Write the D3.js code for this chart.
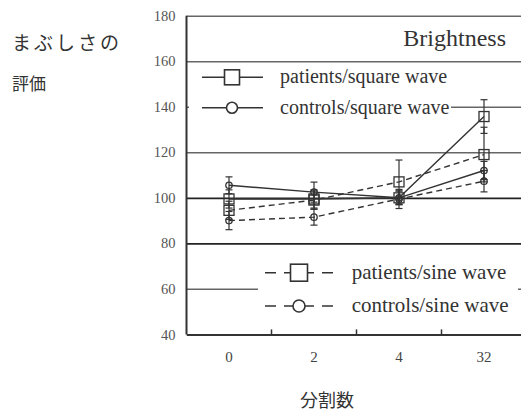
<!DOCTYPE html>
<html>
<head>
<meta charset="utf-8">
<script src="https://cdn.jsdelivr.net/npm/d3@7"></script>
<style>
  body { margin: 0; background: #fff; }
  svg { display: block; }
  .serif { font-family: 'Liberation Serif', 'Times New Roman', Times, 'DejaVu Serif', serif; }
  .cjk { font-family: 'Noto Sans CJK JP', 'Noto Sans CJK SC', sans-serif; }
</style>
</head>
<body>
<svg width="521" height="412"></svg>
<script>
const categories = ['0', '2', '4', '32'];
const yTickValues = [40, 60, 80, 100, 120, 140, 160, 180];

const patientsSquare = [99.5, 99.5, 100, 135.7];
const patientsSquareErr = [4, 4, 3, 7.4];
const controlsSquare = [105.5, 102.5, 100, 112];
const controlsSquareErr = [3.7, 4.4, 3, 4];
const patientsSine = [94.5, 99, 107, 119];
const patientsSineErr = [4, 4, 9.6, 12];
const controlsSine = [90, 91.5, 99.5, 107.3];
const controlsSineErr = [4, 3.5, 4.2, 4.7];

const seriesNames = ['patients/square wave', 'controls/square wave', 'patients/sine wave', 'controls/sine wave'];

const svg = d3.select('svg');
const plot = {left: 186.5, right: 526.5, top: 15.7, bottom: 334.4};

const x = d3.scaleBand().domain(categories).range([plot.left, plot.right]);
const y = d3.scaleLinear().domain([40, 180]).range([plot.bottom, plot.top]);
const cx = c => x(c) + x.bandwidth() / 2;

// gridlines via axis ticks
const grid = svg.append('g')
  .attr('transform', `translate(${plot.left},0)`)
  .call(d3.axisLeft(y).tickValues(yTickValues).tickSize(-(plot.right - plot.left)).tickPadding(11).tickFormat(d3.format('d')));
grid.attr('font-family', null);
grid.select('.domain').remove();
grid.selectAll('.tick line')
  .attr('stroke', d => (d === 100 || d === 80) ? '#222' : '#666')
  .attr('stroke-width', d => (d === 100 || d === 80) ? 1.8 : 1.5);
grid.selectAll('.tick text')
  .attr('class', 'serif')
  .attr('font-size', 14.5)
  .attr('fill', '#555');

// legend boxes hide the gridlines behind them
svg.append('rect').attr('x', 189).attr('y', 64).attr('width', 262).attr('height', 56).attr('fill', '#fff');
svg.append('rect').attr('x', 258).attr('y', 250).attr('width', 260).attr('height', 80).attr('fill', '#fff');

// axis lines
svg.append('line')
  .attr('x1', plot.left).attr('x2', plot.left)
  .attr('y1', plot.top).attr('y2', plot.bottom)
  .attr('stroke', '#333').attr('stroke-width', 2);

const xAxis = svg.append('g')
  .attr('transform', `translate(0,${plot.bottom})`)
  .call(d3.axisBottom(x).tickSize(0).tickPadding(16.6));
xAxis.attr('font-family', null);
xAxis.select('.domain').attr('stroke', '#333').attr('stroke-width', 2);
xAxis.selectAll('.tick text')
  .attr('class', 'serif')
  .attr('font-size', 15)
  .attr('fill', '#444');

// small inward ticks between categories
svg.append('g').selectAll('line')
  .data(categories.slice(1))
  .join('line')
  .attr('x1', d => x(d)).attr('x2', d => x(d))
  .attr('y1', plot.bottom).attr('y2', plot.bottom - 5)
  .attr('stroke', '#333').attr('stroke-width', 1.5);

// data series
const series = [
  {name: seriesNames[0], values: patientsSquare, err: patientsSquareErr, marker: 'square', dash: null},
  {name: seriesNames[1], values: controlsSquare, err: controlsSquareErr, marker: 'circle', dash: null},
  {name: seriesNames[2], values: patientsSine, err: patientsSineErr, marker: 'square', dash: '6,4'},
  {name: seriesNames[3], values: controlsSine, err: controlsSineErr, marker: 'circle', dash: '6,4'}
];

const line = d3.line()
  .x((d, i) => cx(categories[i]))
  .y(d => y(d));

const ink = '#333';

series.forEach(s => {
  const g = svg.append('g');
  g.append('path')
    .attr('d', line(s.values))
    .attr('fill', 'none')
    .attr('stroke', ink)
    .attr('stroke-width', 1.4)
    .attr('stroke-dasharray', s.dash);

  // error bars
  const eb = g.selectAll('.eb').data(s.values).join('g');
  eb.append('line')
    .attr('x1', (d, i) => cx(categories[i])).attr('x2', (d, i) => cx(categories[i]))
    .attr('y1', (d, i) => y(d + s.err[i])).attr('y2', (d, i) => y(d - s.err[i]))
    .attr('stroke', ink).attr('stroke-width', 1.2);
  [1, -1].forEach(sign => {
    eb.append('line')
      .attr('x1', (d, i) => cx(categories[i]) - 3.5).attr('x2', (d, i) => cx(categories[i]) + 3.5)
      .attr('y1', (d, i) => y(d + sign * s.err[i])).attr('y2', (d, i) => y(d + sign * s.err[i]))
      .attr('stroke', ink).attr('stroke-width', 1.2);
  });

  // markers
  if (s.marker === 'square') {
    g.selectAll('.m').data(s.values).join('rect')
      .attr('x', (d, i) => cx(categories[i]) - 5).attr('y', d => y(d) - 5)
      .attr('width', 10).attr('height', 10)
      .attr('fill', 'none').attr('stroke', ink).attr('stroke-width', 1.3);
  } else {
    g.selectAll('.m').data(s.values).join('circle')
      .attr('cx', (d, i) => cx(categories[i])).attr('cy', d => y(d))
      .attr('r', 3.2)
      .attr('fill', 'none').attr('stroke', ink).attr('stroke-width', 1.3);
  }
});

// legends
const legends = [
  {s: series[0], x0: 202, x1: 263, mx: 232, ty: 77.3, tx: 280, size: 15, r: 5.5, fs: 20},
  {s: series[1], x0: 202, x1: 263, mx: 232, ty: 107.7, tx: 280, size: 15, r: 5.5, fs: 20},
  {s: series[2], x0: 265, x1: 333, mx: 299, ty: 272.7, tx: 351.7, size: 17, r: 6, fs: 21},
  {s: series[3], x0: 265, x1: 333, mx: 299, ty: 306, tx: 351.7, size: 17, r: 6, fs: 21}
];
legends.forEach(l => {
  const g = svg.append('g');
  g.append('line')
    .attr('x1', l.x0).attr('x2', l.x1).attr('y1', l.ty).attr('y2', l.ty)
    .attr('stroke', ink).attr('stroke-width', 1.6)
    .attr('stroke-dasharray', l.s.dash ? '11,8' : null);
  if (l.s.marker === 'square') {
    g.append('rect')
      .attr('x', l.mx - l.size / 2).attr('y', l.ty - l.size / 2)
      .attr('width', l.size).attr('height', l.size)
      .attr('fill', '#fff').attr('stroke', ink).attr('stroke-width', 1.6);
  } else {
    g.append('circle')
      .attr('cx', l.mx).attr('cy', l.ty).attr('r', l.r)
      .attr('fill', '#fff').attr('stroke', ink).attr('stroke-width', 1.6);
  }
  g.append('text')
    .attr('class', 'serif')
    .attr('x', l.tx).attr('y', l.ty)
    .attr('dy', '0.3em')
    .attr('font-size', l.fs)
    .attr('fill', '#333')
    .text(l.s.name);
});

// title inside the plot
svg.append('text')
  .attr('class', 'serif')
  .attr('x', 506).attr('y', 46)
  .attr('text-anchor', 'end')
  .attr('font-size', 24)
  .attr('fill', '#333')
  .text('Brightness');

// axis titles
svg.append('text')
  .attr('class', 'cjk')
  .attr('x', 12).attr('y', 50)
  .attr('font-size', 19)
  .attr('letter-spacing', 3)
  .attr('fill', '#333')
  .text('まぶしさの');
svg.append('text')
  .attr('class', 'cjk')
  .attr('x', 12).attr('y', 90)
  .attr('font-size', 17)
  .attr('fill', '#333')
  .text('評価');
svg.append('text')
  .attr('class', 'cjk')
  .attr('x', 327).attr('y', 407)
  .attr('text-anchor', 'middle')
  .attr('font-size', 18)
  .attr('fill', '#333')
  .text('分割数');
</script>
</body>
</html>
